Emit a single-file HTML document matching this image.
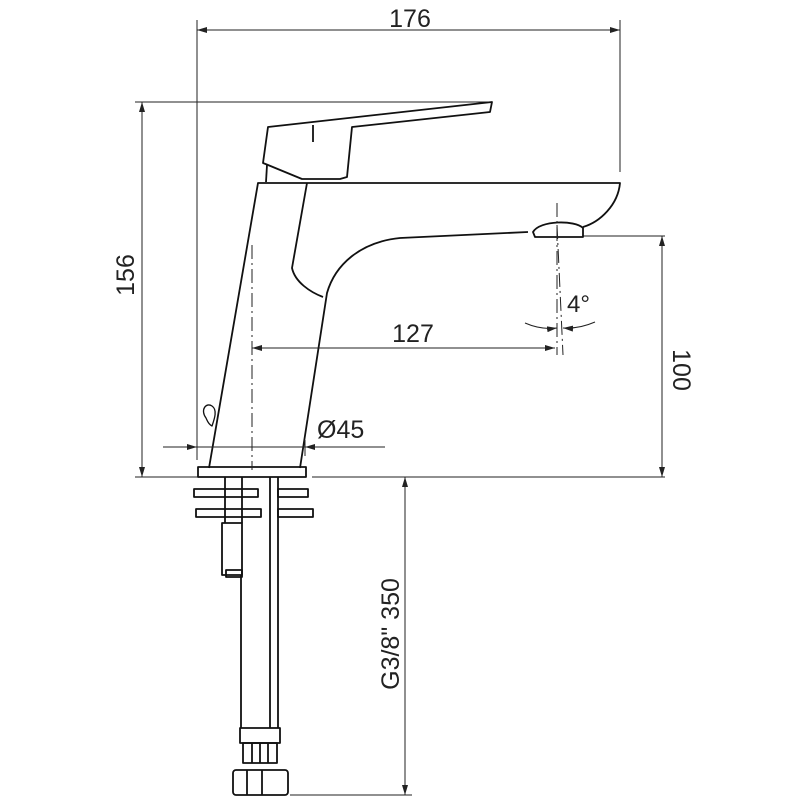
<!DOCTYPE html>
<html><head><style>body{margin:0;background:#fff}svg{display:block}text{font-family:"Liberation Sans",sans-serif;fill:#222}</style></head><body>
<svg width="800" height="800" viewBox="0 0 800 800" xmlns="http://www.w3.org/2000/svg">
<defs><marker id="a" viewBox="0 0 10 6" refX="10" refY="3" markerWidth="10" markerHeight="6" orient="auto-start-reverse" markerUnits="userSpaceOnUse"><path d="M0,0L10,3L0,6z" fill="#222"/></marker></defs>
<g stroke="#222" stroke-width="1" fill="none">
<line x1="197" y1="20" x2="197" y2="460"/>
<line x1="620" y1="20" x2="620" y2="172"/>
<line x1="197" y1="30" x2="620" y2="30" marker-start="url(#a)" marker-end="url(#a)"/>
<line x1="135" y1="102" x2="490" y2="102"/>
<line x1="142" y1="102" x2="142" y2="477" marker-start="url(#a)" marker-end="url(#a)"/>
<line x1="135" y1="477" x2="300" y2="477"/>
<line x1="312" y1="477" x2="665" y2="477"/>
<line x1="583" y1="236" x2="665" y2="236"/>
<line x1="662" y1="236" x2="662" y2="477" marker-start="url(#a)" marker-end="url(#a)"/>
</g>
<g stroke="#111" stroke-width="1.8" fill="none" stroke-linejoin="round">
<path d="M268,127 L492,102 L490,112 L352,127 L347,177 L340,179 L302,179 L268,165 L263,163 Z"/>
<line x1="313" y1="125" x2="313" y2="142"/>
<line x1="267" y1="165" x2="266" y2="182"/>
<path d="M209,468 L258,183 L620,183 C618,205 600,222 583,227"/>
<path d="M528,232 L400,238 C360,242 335,265 327,293 L300,468"/>
<path d="M307,183 L292,268 C295,282 310,292 323,297"/>
<path d="M533,232 C540,220 575,220 583,228 L583,237 L535,237 Z"/>
<path d="M206,418 C200,410 206,402 212,406 C218,410 214,420 212,426 C208,424 207,420 206,418Z" stroke-width="1.3"/>
<rect x="198" y="467" width="108" height="10"/>
<rect x="194" y="489" width="64" height="8"/>
<rect x="278" y="489" width="30" height="8"/>
<rect x="196" y="509" width="65" height="8"/>
<rect x="278" y="509" width="35" height="8"/>
<line x1="225" y1="477" x2="225" y2="523"/>
<line x1="242" y1="477" x2="242" y2="523"/>
<line x1="270" y1="477" x2="270" y2="728"/>
<line x1="278" y1="477" x2="278" y2="728"/>
<line x1="241" y1="575" x2="241" y2="728"/>
<rect x="222" y="523" width="20" height="52"/>
<rect x="226" y="570" width="16" height="7"/>
<rect x="240" y="728" width="40" height="15"/>
<rect x="243" y="743" width="34" height="20"/>
<line x1="252" y1="743" x2="252" y2="763"/><line x1="260" y1="743" x2="260" y2="763"/><line x1="268" y1="743" x2="268" y2="763"/>
<rect x="233" y="770" width="55" height="25" rx="3"/>
<line x1="247" y1="770" x2="247" y2="795"/><line x1="262" y1="770" x2="262" y2="795"/>
</g>
<g stroke="#222" stroke-width="1" fill="none">
<line x1="252" y1="245" x2="252" y2="470" stroke-dasharray="14,4,2,4"/>
<line x1="557" y1="203" x2="557" y2="355" stroke-dasharray="14,4,2,4"/>
<line x1="557" y1="225" x2="563" y2="355" stroke-dasharray="14,4,2,4"/>
<line x1="252" y1="348" x2="555" y2="348" marker-start="url(#a)" marker-end="url(#a)"/>
<path d="M525,323 Q541,330 557,328" marker-end="url(#a)"/>
<path d="M595,322 Q579,329 563,328" marker-end="url(#a)"/>
<line x1="163" y1="447" x2="197" y2="447" marker-end="url(#a)"/>
<line x1="385" y1="447" x2="305" y2="447" marker-end="url(#a)"/>
<line x1="197" y1="447" x2="305" y2="447"/>
<line x1="305" y1="440" x2="305" y2="456"/>
<line x1="290" y1="795" x2="412" y2="795"/>
<line x1="405" y1="477" x2="405" y2="795" marker-start="url(#a)" marker-end="url(#a)"/>
</g>
<text x="410" y="27" font-size="25" text-anchor="middle">176</text>
<text transform="translate(134,275) rotate(-90)" font-size="25" text-anchor="middle">156</text>
<text transform="translate(673,370) rotate(90)" font-size="25" text-anchor="middle">100</text>
<text x="413" y="342" font-size="25" text-anchor="middle">127</text>
<text x="567" y="312" font-size="24">4°</text>
<text x="317" y="438" font-size="25">Ø45</text>
<text transform="translate(399,634) rotate(-90)" font-size="25" text-anchor="middle">G3/8" 350</text>
</svg>
</body></html>
